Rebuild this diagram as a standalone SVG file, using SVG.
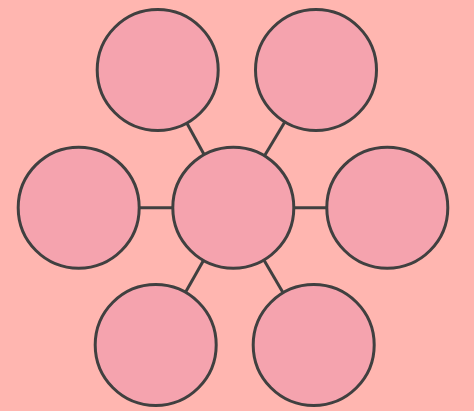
<svg xmlns="http://www.w3.org/2000/svg" width="474" height="411" viewBox="0 0 474 411">
<style>
.n{fill:#F5A3AE;stroke:#404040;stroke-width:3}
.e{stroke:#404040;stroke-width:3;fill:none}
</style>
<rect width="474" height="411" fill="#FFB6B0"/>
<g id="connectors">
<line class="e" x1="233.3" y1="207.7" x2="157.7" y2="70"/>
<line class="e" x1="233.3" y1="207.7" x2="316" y2="70"/>
<line class="e" x1="233.3" y1="207.7" x2="78.7" y2="207.7"/>
<line class="e" x1="233.3" y1="207.7" x2="387.3" y2="207.7"/>
<line class="e" x1="233.3" y1="207.7" x2="155.7" y2="345"/>
<line class="e" x1="233.3" y1="207.7" x2="313.7" y2="345"/>
</g>
<g id="center"><circle class="n" cx="233.3" cy="207.7" r="60.5"/></g>
<g id="top-left"><circle class="n" cx="157.7" cy="70" r="60.5"/></g>
<g id="top-right"><circle class="n" cx="316" cy="70" r="60.5"/></g>
<g id="left"><circle class="n" cx="78.7" cy="207.7" r="60.5"/></g>
<g id="right"><circle class="n" cx="387.3" cy="207.7" r="60.5"/></g>
<g id="bottom-left"><circle class="n" cx="155.7" cy="345" r="60.5"/></g>
<g id="bottom-right"><circle class="n" cx="313.7" cy="345" r="60.5"/></g>
</svg>
